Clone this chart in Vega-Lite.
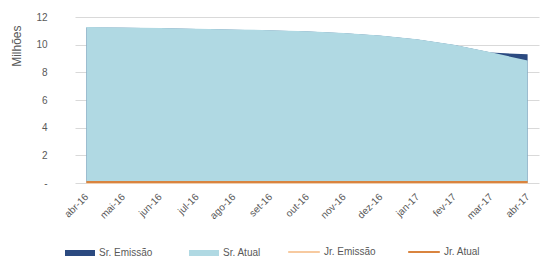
{
  "$schema": "https://vega.github.io/schema/vega-lite/v6.json",
  "autosize": {"type": "none"},
  "width": 464,
  "height": 166,
  "padding": {"left": 75, "top": 17, "right": 5, "bottom": 77},
  "background": "white",
  "config": {
    "view": {"stroke": null},
    "font": "Liberation Sans",
    "axis": {"labelColor": "#595959", "titleColor": "#595959", "labelFontSize": 10, "titleFontSize": 12, "titleFontWeight": "normal"},
    "legend": {"labelColor": "#595959", "labelFontSize": 10}
  },
  "datasets": {
    "d": [
      {"mes": "abr-16", "serie": "Sr. Emissão", "valor": 11.25},
      {"mes": "mai-16", "serie": "Sr. Emissão", "valor": 11.22},
      {"mes": "jun-16", "serie": "Sr. Emissão", "valor": 11.18},
      {"mes": "jul-16", "serie": "Sr. Emissão", "valor": 11.13},
      {"mes": "ago-16", "serie": "Sr. Emissão", "valor": 11.08},
      {"mes": "set-16", "serie": "Sr. Emissão", "valor": 11.03},
      {"mes": "out-16", "serie": "Sr. Emissão", "valor": 10.95},
      {"mes": "nov-16", "serie": "Sr. Emissão", "valor": 10.82},
      {"mes": "dez-16", "serie": "Sr. Emissão", "valor": 10.65},
      {"mes": "jan-17", "serie": "Sr. Emissão", "valor": 10.38},
      {"mes": "fev-17", "serie": "Sr. Emissão", "valor": 9.98},
      {"mes": "mar-17", "serie": "Sr. Emissão", "valor": 9.43},
      {"mes": "abr-17", "serie": "Sr. Emissão", "valor": 9.3},
      {"mes": "abr-16", "serie": "Sr. Atual", "valor": 11.27},
      {"mes": "mai-16", "serie": "Sr. Atual", "valor": 11.24},
      {"mes": "jun-16", "serie": "Sr. Atual", "valor": 11.2},
      {"mes": "jul-16", "serie": "Sr. Atual", "valor": 11.15},
      {"mes": "ago-16", "serie": "Sr. Atual", "valor": 11.1},
      {"mes": "set-16", "serie": "Sr. Atual", "valor": 11.05},
      {"mes": "out-16", "serie": "Sr. Atual", "valor": 10.97},
      {"mes": "nov-16", "serie": "Sr. Atual", "valor": 10.84},
      {"mes": "dez-16", "serie": "Sr. Atual", "valor": 10.67},
      {"mes": "jan-17", "serie": "Sr. Atual", "valor": 10.4},
      {"mes": "fev-17", "serie": "Sr. Atual", "valor": 10.0},
      {"mes": "mar-17", "serie": "Sr. Atual", "valor": 9.45},
      {"mes": "abr-17", "serie": "Sr. Atual", "valor": 8.85},
      {"mes": "abr-16", "serie": "Jr. Emissão", "valor": 0.01},
      {"mes": "mai-16", "serie": "Jr. Emissão", "valor": 0.01},
      {"mes": "jun-16", "serie": "Jr. Emissão", "valor": 0.01},
      {"mes": "jul-16", "serie": "Jr. Emissão", "valor": 0.01},
      {"mes": "ago-16", "serie": "Jr. Emissão", "valor": 0.01},
      {"mes": "set-16", "serie": "Jr. Emissão", "valor": 0.01},
      {"mes": "out-16", "serie": "Jr. Emissão", "valor": 0.01},
      {"mes": "nov-16", "serie": "Jr. Emissão", "valor": 0.01},
      {"mes": "dez-16", "serie": "Jr. Emissão", "valor": 0.01},
      {"mes": "jan-17", "serie": "Jr. Emissão", "valor": 0.01},
      {"mes": "fev-17", "serie": "Jr. Emissão", "valor": 0.01},
      {"mes": "mar-17", "serie": "Jr. Emissão", "valor": 0.01},
      {"mes": "abr-17", "serie": "Jr. Emissão", "valor": 0.01},
      {"mes": "abr-16", "serie": "Jr. Atual", "valor": 0.07},
      {"mes": "mai-16", "serie": "Jr. Atual", "valor": 0.07},
      {"mes": "jun-16", "serie": "Jr. Atual", "valor": 0.07},
      {"mes": "jul-16", "serie": "Jr. Atual", "valor": 0.07},
      {"mes": "ago-16", "serie": "Jr. Atual", "valor": 0.07},
      {"mes": "set-16", "serie": "Jr. Atual", "valor": 0.07},
      {"mes": "out-16", "serie": "Jr. Atual", "valor": 0.07},
      {"mes": "nov-16", "serie": "Jr. Atual", "valor": 0.07},
      {"mes": "dez-16", "serie": "Jr. Atual", "valor": 0.07},
      {"mes": "jan-17", "serie": "Jr. Atual", "valor": 0.07},
      {"mes": "fev-17", "serie": "Jr. Atual", "valor": 0.07},
      {"mes": "mar-17", "serie": "Jr. Atual", "valor": 0.07},
      {"mes": "abr-17", "serie": "Jr. Atual", "valor": 0.07}
    ]
  },
  "data": {"name": "d"},
  "encoding": {
    "x": {
      "field": "mes", "type": "ordinal", "sort": null,
      "scale": {"type": "point", "padding": 0.31},
      "axis": {"title": null, "labelAngle": -45, "labelAlign": "right", "labelBaseline": "middle", "ticks": false, "domain": false, "labelPadding": 12}
    },
    "y": {
      "field": "valor", "type": "quantitative",
      "scale": {"domain": [0, 12]},
      "axis": {"title": "Milhões", "titleAnchor": "end", "titlePadding": 12, "titleY": 8, "values": [0, 2, 4, 6, 8, 10, 12], "labelExpr": "datum.value == 0 ? '-' : datum.label", "grid": true, "gridColor": "#d9d9d9", "domain": false, "ticks": false, "labelPadding": 28}
    }
  },
  "layer": [
    {
      "transform": [{"filter": "datum.serie == 'Sr. Emissão'"}],
      "mark": {"type": "area", "stack": null},
      "encoding": {
        "y": {"field": "valor", "type": "quantitative", "stack": null},
        "fill": {
          "field": "serie", "type": "nominal",
          "scale": {"domain": ["Sr. Emissão", "Sr. Atual"], "range": ["#2b4a80", "#b0d9e3"]},
          "legend": {"title": null, "orient": "none", "legendX": -10, "legendY": 221, "direction": "horizontal", "symbolType": "M-1,-0.2H1V0.2H-1Z", "symbolSize": 900, "columnPadding": 36, "labelOffset": 4, "symbolStrokeWidth": 0}
        }
      }
    },
    {
      "transform": [{"filter": "datum.serie == 'Sr. Atual'"}],
      "mark": {"type": "area", "stack": null},
      "encoding": {
        "y": {"field": "valor", "type": "quantitative", "stack": null},
        "fill": {"field": "serie", "type": "nominal"}
      }
    },
    {
      "transform": [{"filter": "datum.serie == 'Jr. Emissão' || datum.serie == 'Jr. Atual'"}],
      "mark": {"type": "line", "strokeWidth": 2},
      "encoding": {
        "stroke": {
          "field": "serie", "type": "nominal",
          "scale": {"domain": ["Jr. Emissão", "Jr. Atual"], "range": ["#f7caa0", "#d9843f"]},
          "legend": {"title": null, "orient": "none", "legendX": 212, "legendY": 218, "direction": "horizontal", "symbolType": "M-1,0H1", "symbolSize": 1000, "symbolStrokeWidth": 2, "columnPadding": 28, "labelOffset": 3}
        }
      }
    }
  ],
  "resolve": {"scale": {"fill": "shared"}}
}
